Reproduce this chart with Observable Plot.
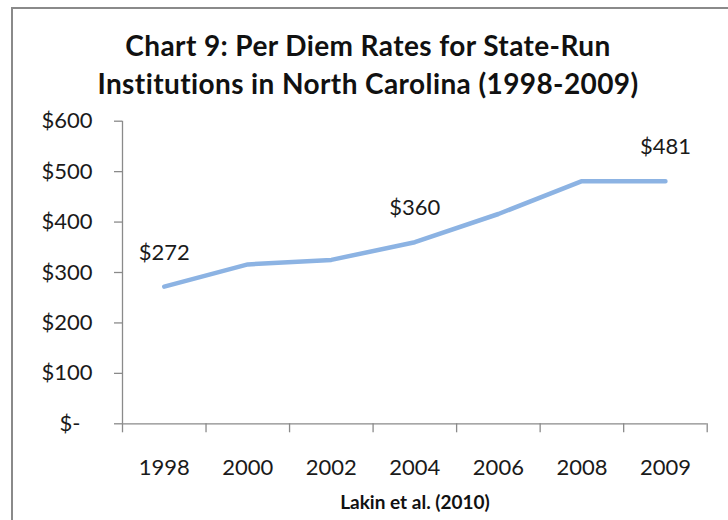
<!DOCTYPE html>
<html>
<head>
<meta charset="utf-8">
<script src="https://cdn.jsdelivr.net/npm/d3@7"></script>
<script src="https://cdn.jsdelivr.net/npm/@observablehq/plot@0.6"></script>
<style>
  html, body { margin: 0; padding: 0; background: #fff; }
  #wrap { position: relative; width: 728px; height: 520px; overflow: hidden; font-family: Lato, "Open Sans", sans-serif; color: #111; }
  #frame { position: absolute; left: 11px; top: 7px; width: 760px; height: 560px; border-left: 2px solid #8a8a8a; border-top: 2px solid #8a8a8a; box-sizing: border-box; pointer-events: none; }
  #title { position: relative; height: 77px; padding-top: 26px; line-height: 38px; font-size: 28px; letter-spacing: 0.4px; font-weight: bold; text-align: center; left: 4px; }
  #chart svg { display: block; }
  #caption { position: relative; left: 51px; padding-top: 5px; line-height: 24px; font-size: 19px; font-weight: bold; text-align: center; }
</style>
</head>
<body>
<div id="wrap">
  <div id="frame"></div>
  <div id="title">Chart 9: Per Diem Rates for State-Run<br>Institutions in North Carolina (1998-2009)</div>
  <div id="chart"></div>
  <div id="caption">Lakin et al. (2010)</div>
</div>
<script>
const years = ["1998", "2000", "2002", "2004", "2006", "2008", "2009"];
const rates = [272, 316, 325, 360, 416, 481, 481];
const labeledYears = ["1998", "2004", "2009"];
const yTicks = [0, 100, 200, 300, 400, 500, 600];

const data = years.map((year, i) => ({year, rate: rates[i], pos: i + 0.5}));
const axisColor = "#8a8a8a";

const chart = Plot.plot({
  width: 728,
  height: 382,
  marginTop: 17.7,
  marginBottom: 61.7,
  marginLeft: 122,
  marginRight: 21.3,
  x: {domain: [0, years.length], axis: null, label: null},
  y: {domain: [0, 600], axis: null, label: null},
  style: {fontFamily: "Lato, 'Open Sans', sans-serif", fontSize: "22px", color: "#1a1a1a", background: "transparent", overflow: "visible"},
  marks: [
    Plot.ruleY([0], {stroke: axisColor, strokeWidth: 1.3}),
    Plot.ruleX([0], {stroke: axisColor, strokeWidth: 1.3}),
    Plot.axisX(d3.range(0, years.length + 1), {tickSize: 9, tickFormat: () => "", stroke: axisColor, strokeWidth: 1.3, label: null}),
    Plot.axisX(data.map(d => d.pos), {tickSize: 0, tickPadding: 36, tickFormat: p => years[Math.floor(p)], fontSize: 22, label: null}),
    Plot.axisY(yTicks, {tickSize: 8, tickPadding: 22, tickFormat: d => d === 0 ? "" : "$" + d, stroke: axisColor, strokeWidth: 1.3, fontSize: 22, label: null}),
    Plot.axisY([0], {tickSize: 0, tickPadding: 42, tickFormat: () => "$-", fontSize: 22, label: null}),
    Plot.line(data, {x: "pos", y: "rate", stroke: "#8cb3e3", strokeWidth: 4.5, strokeLinecap: "round", strokeLinejoin: "round"}),
    Plot.text(data.filter(d => labeledYears.includes(d.year)), {x: "pos", y: "rate", text: d => "$" + d.rate, dy: -34, fontSize: 22, fill: "#1a1a1a"})
  ]
});
document.getElementById("chart").appendChild(chart);
</script>
</body>
</html>
